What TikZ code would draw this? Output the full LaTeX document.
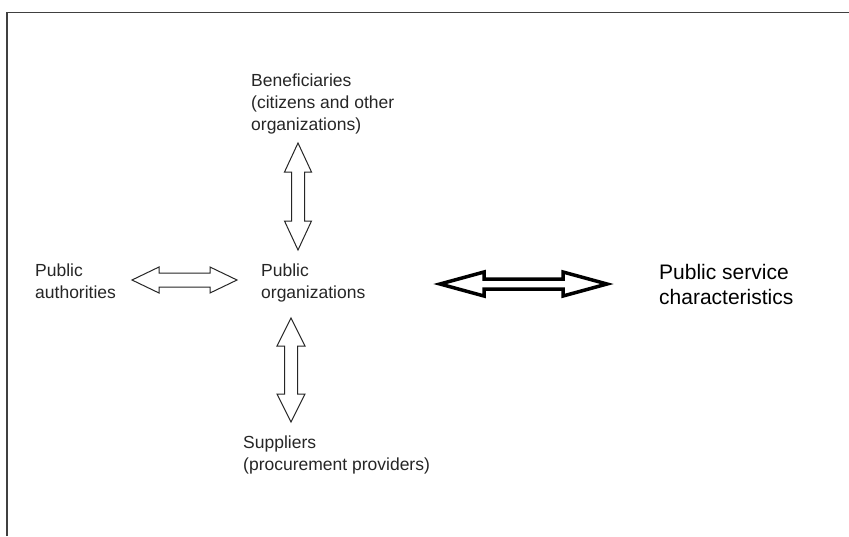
\documentclass[tikz,border=0pt]{standalone}
\usepackage{fontspec}
\setmainfont{Liberation Sans}
% horizontal double block arrow: #1 style, #2 left tip x, #3 right tip x, #4 y, #5 head length, #6 head half-height, #7 shaft half-height
\newcommand\blockH[7]{%
  \draw[#1] (#2,#4) -- ({#2+#5},{#4-#6}) -- ({#2+#5},{#4-#7}) -- ({#3-#5},{#4-#7}) -- ({#3-#5},{#4-#6}) -- (#3,#4)
    -- ({#3-#5},{#4+#6}) -- ({#3-#5},{#4+#7}) -- ({#2+#5},{#4+#7}) -- ({#2+#5},{#4+#6}) -- cycle;}
% vertical double block arrow: #1 style, #2 top tip y, #3 bottom tip y, #4 x, #5 head length, #6 head half-width, #7 shaft half-width
\newcommand\blockV[7]{%
  \draw[#1] (#4,#2) -- ({#4+#6},{#2+#5}) -- ({#4+#7},{#2+#5}) -- ({#4+#7},{#3-#5}) -- ({#4+#6},{#3-#5}) -- (#4,#3)
    -- ({#4-#6},{#3-#5}) -- ({#4-#7},{#3-#5}) -- ({#4-#7},{#2+#5}) -- ({#4-#6},{#2+#5}) -- cycle;}
\begin{document}
\begin{tikzpicture}[x=1pt,y=-1pt,
  lbl/.style={inner sep=0pt, align=left, anchor=north west, font=\fontsize{17.5}{22}\selectfont, text=black!85},
  biglbl/.style={inner sep=0pt, align=left, anchor=north west, font=\fontsize{21}{25}\selectfont, text=black},
  thinarrow/.style={draw=black!85, line width=1pt, fill=white, line join=miter},
  thickarrow/.style={draw=black, line width=3.5pt, fill=white, line join=miter},
  frame/.style={draw=black!75, line width=1.5pt}]
\useasboundingbox (0,0) rectangle (849,536);
\fill[white] (0,0) rectangle (849,536);
\draw[frame] (7,536) -- (7,12.5) -- (849,12.5);

\node[lbl] (ben) at (251,74) {Beneficiaries\\(citizens and other\\organizations)};
\node[lbl] (auth) at (35,264) {Public\\authorities};
\node[lbl] (org) at (261,264) {Public\\organizations};
\node[biglbl] (psc) at (659,264) {Public service\\characteristics};
\node[lbl] (sup) at (243,436) {Suppliers\\(procurement providers)};

\blockH{thinarrow}{132}{237}{280}{27}{13}{7}
\blockH{thickarrow}{440}{607}{284}{44}{12}{5}
\blockV{thinarrow}{143}{250}{298}{29}{13.5}{6.5}
\blockV{thinarrow}{318}{422}{291}{28}{14}{6.5}
\end{tikzpicture}
\end{document}
